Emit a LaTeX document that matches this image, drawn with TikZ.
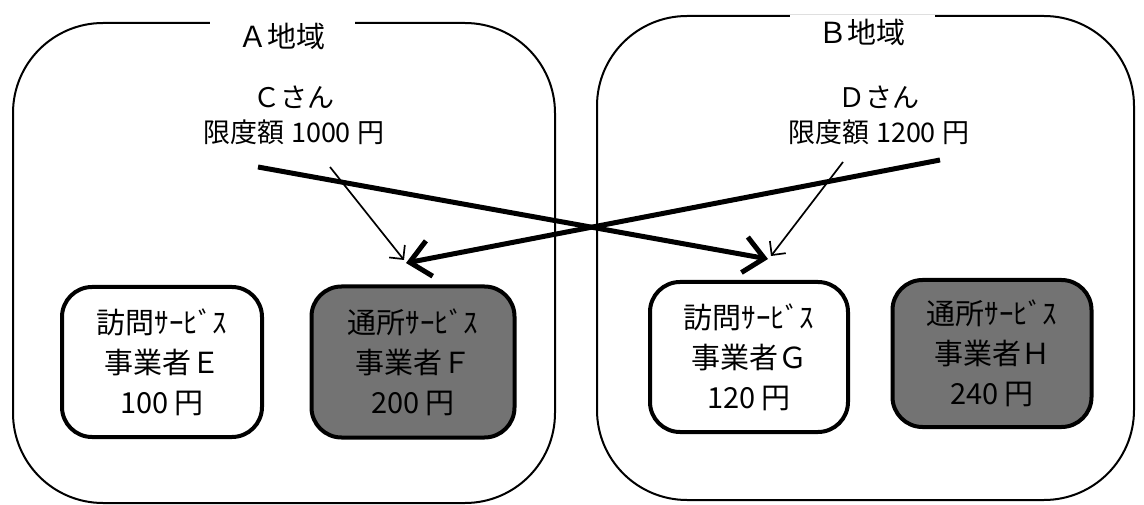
\documentclass[tikz,border=0pt]{standalone}
\usepackage{fontspec}
\setmainfont{Noto Sans CJK JP}
\usetikzlibrary{arrows.meta}
\begin{document}
\begin{tikzpicture}[x=1pt,y=-1pt,
  region/.style={draw, line width=2pt, rounded corners=90pt, inner sep=0pt},
  regtitle/.style={fill=white, inner xsep=29pt, inner ysep=4pt, font=\fontsize{29}{32}\selectfont},
  person/.style={align=center, inner sep=0pt, font=\fontsize{27}{35}\selectfont},
  svcbox/.style={draw, line width=4pt, rounded corners=30pt, align=center, inner sep=0pt, font=\fontsize{29}{40}\selectfont},
  visit/.style={svcbox, fill=white},
  day/.style={svcbox, fill=black!55},
  bigarrow/.style={line width=5pt, -{Straight Barb[length=20pt,width=36pt]}},
  smallarrow/.style={line width=1.7pt, -{Straight Barb[length=10pt,width=20pt]}}
]
\useasboundingbox (0,0) rectangle (1144,505);

% regions
\node[region, minimum width=542pt, minimum height=480pt] (RA) at (284,263) {};
\node[region, minimum width=537pt, minimum height=484pt] (RB) at (865.5,258) {};
\node[regtitle] (TA) at (282,36) {Ａ地域};
\node[regtitle] (TB) at (862,32) {Ｂ地域};

% persons
\node[person] (C) at (294,115) {Ｃさん\\限度額 1000 円};
\node[person] (D) at (879,115) {Ｄさん\\限度額 1200 円};

% service providers
\node[visit, minimum width=200pt, minimum height=150pt] (E) at (162,362) {訪問ｻｰﾋﾞｽ\\事業者Ｅ\\100 円};
\node[day, minimum width=203pt, minimum height=151pt] (F) at (413,362) {通所ｻｰﾋﾞｽ\\事業者Ｆ\\200 円};
\node[visit, minimum width=198pt, minimum height=150pt] (G) at (749,357) {訪問ｻｰﾋﾞｽ\\事業者Ｇ\\120 円};
\node[day, minimum width=199pt, minimum height=147pt] (H) at (992,353.5) {通所ｻｰﾋﾞｽ\\事業者Ｈ\\240 円};

% arrow end points
\coordinate (c1) at (258,167);
\coordinate (g1) at (768,259);
\coordinate (d1) at (940,160);
\coordinate (f1) at (406,263);
\coordinate (c2) at (330,167);
\coordinate (f2) at (404,260);
\coordinate (d2) at (843,162);
\coordinate (g2) at (771,256);

\draw[smallarrow] (c2) -- (f2);
\draw[smallarrow] (d2) -- (g2);
\draw[bigarrow] (c1) -- (g1);
\draw[bigarrow] (d1) -- (f1);
\end{tikzpicture}
\end{document}
